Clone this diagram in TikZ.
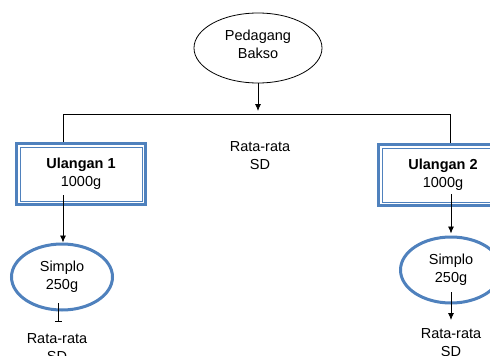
\documentclass[tikz,border=0pt]{standalone}
\usepackage{fontspec}
\setmainfont{Liberation Sans}
\usetikzlibrary{shapes.geometric,arrows.meta}
\definecolor{boxblue}{HTML}{4F81BD}
\tikzset{
  txt/.style={align=center,font=\fontsize{14.5}{18}\selectfont,inner sep=0pt},
  topell/.style={ellipse,draw=black,line width=0.8pt,minimum width=128pt,minimum height=70pt,inner sep=0pt},
  simell/.style={ellipse,draw=boxblue,line width=3pt,minimum width=101pt,minimum height=66pt,inner sep=0pt,txt},
  ulbox/.style={rectangle,draw=boxblue,line width=3pt,minimum width=129pt,minimum height=61pt,inner sep=0pt,txt},
  inbox/.style={draw=boxblue,line width=0.9pt},
  conn/.style={draw=black,line width=0.8pt},
  arr/.style={conn,-{Latex[length=7pt,width=6pt]}},
  barend/.style={conn,-{Bar[width=7pt]}}
}
\begin{document}
\begin{tikzpicture}[x=1pt,y=-1pt]
\useasboundingbox[fill=white] (0,0) rectangle (490,356);
% nodes
\node[topell] (pb) at (258,48) {};
\node[txt] (pbt) at (258,44) {Pedagang\\Bakso};
\node[txt] (mid) at (260,156) {Rata-rata\\SD};
\node[ulbox] (b1) at (81,174) {\textbf{Ulangan 1}\\1000g};
\node[ulbox] (b2) at (443,175) {\textbf{Ulangan 2}\\1000g};
\draw[inbox] ([shift={(5pt,-5pt)}]b1.north west) rectangle ([shift={(-5pt,5pt)}]b1.south east);
\draw[inbox] ([shift={(5pt,-5pt)}]b2.north west) rectangle ([shift={(-5pt,5pt)}]b2.south east);
\node[simell] (s1) at (62,277) {Simplo\\250g};
\node[simell] (s2) at (451,270) {Simplo\\250g};
\node[txt] (r1) at (57,348) {Rata-rata\\SD};
\node[txt] (r2) at (451,343) {Rata-rata\\SD};
% coordinates
\coordinate (tip) at (258,111);
\coordinate (jl) at (63,114);
\coordinate (jr) at (450,114);
\coordinate (l1) at (63,195);
\coordinate (l2) at (451,194);
\coordinate (t1) at (58,303);
\coordinate (t1e) at (58,322);
\coordinate (t2) at (451,292);
\coordinate (t2e) at (451,320);
% connectors
\draw[arr] (pb.south) -- (tip);
\draw[conn] (jl|-b1.north) -- (jl) -- (jr) -- (jr|-b2.north);
\draw[arr] (l1) -- (l1|-s1.north);
\draw[arr] (l2) -- ([yshift=2pt]s2.north);
\draw[barend] (t1) -- (t1e);
\draw[arr] (t2) -- (t2e);
\end{tikzpicture}
\end{document}
